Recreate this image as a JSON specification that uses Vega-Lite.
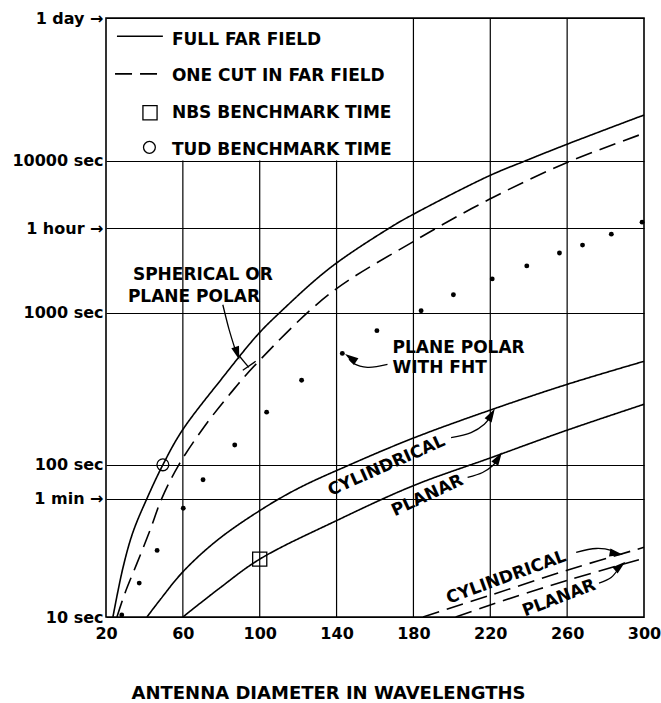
{
  "$schema": "https://vega.github.io/schema/vega-lite/v6.json",
  "width": 538,
  "height": 599,
  "autosize": {"type": "none"},
  "padding": {"left": 106, "top": 18, "right": 17, "bottom": 86},
  "background": "white",
  "config": {"view": {"stroke": "black", "strokeWidth": 1.6}, "font": "DejaVu Sans"},
  "datasets": {
    "vgrid": [
      {"x": 60, "y": 10, "y2": 10000},
      {"x": 100, "y": 10, "y2": 10000},
      {"x": 140, "y": 10, "y2": 10000},
      {"x": 180, "y": 10, "y2": 86400},
      {"x": 220, "y": 10, "y2": 86400},
      {"x": 260, "y": 10, "y2": 86400}
    ],
    "curves": [
      {"series": "spherical", "field": "full", "x": 23.6, "y": 10},
      {"series": "spherical", "field": "full", "x": 28.8, "y": 21},
      {"series": "spherical", "field": "full", "x": 34.0, "y": 36},
      {"series": "spherical", "field": "full", "x": 41.3, "y": 60},
      {"series": "spherical", "field": "full", "x": 49.6, "y": 100},
      {"series": "spherical", "field": "full", "x": 59.5, "y": 167},
      {"series": "spherical", "field": "full", "x": 80, "y": 365},
      {"series": "spherical", "field": "full", "x": 99, "y": 718},
      {"series": "spherical", "field": "full", "x": 110.4, "y": 1000},
      {"series": "spherical", "field": "full", "x": 136.4, "y": 1960},
      {"series": "spherical", "field": "full", "x": 167.5, "y": 3600},
      {"series": "spherical", "field": "full", "x": 179.5, "y": 4400},
      {"series": "spherical", "field": "full", "x": 219.5, "y": 7940},
      {"series": "spherical", "field": "full", "x": 238.7, "y": 10000},
      {"series": "spherical", "field": "full", "x": 260, "y": 12800},
      {"series": "spherical", "field": "full", "x": 300, "y": 19900},

      {"series": "sphericalCut", "field": "cut", "x": 25.7, "y": 10},
      {"series": "sphericalCut", "field": "cut", "x": 30, "y": 14.5},
      {"series": "sphericalCut", "field": "cut", "x": 36.1, "y": 22.5},
      {"series": "sphericalCut", "field": "cut", "x": 42.9, "y": 37.1},
      {"series": "sphericalCut", "field": "cut", "x": 49, "y": 60},
      {"series": "sphericalCut", "field": "cut", "x": 57.9, "y": 100},
      {"series": "sphericalCut", "field": "cut", "x": 71.4, "y": 180},
      {"series": "sphericalCut", "field": "cut", "x": 84.4, "y": 291},
      {"series": "sphericalCut", "field": "cut", "x": 98.4, "y": 464},
      {"series": "sphericalCut", "field": "cut", "x": 136.4, "y": 1330},
      {"series": "sphericalCut", "field": "cut", "x": 179.5, "y": 2910},
      {"series": "sphericalCut", "field": "cut", "x": 219.5, "y": 5560},
      {"series": "sphericalCut", "field": "cut", "x": 260, "y": 9700},
      {"series": "sphericalCut", "field": "cut", "x": 300, "y": 15100},

      {"series": "cylindrical", "field": "full", "x": 41.3, "y": 10},
      {"series": "cylindrical", "field": "full", "x": 48, "y": 12.9},
      {"series": "cylindrical", "field": "full", "x": 60, "y": 19.8},
      {"series": "cylindrical", "field": "full", "x": 77.7, "y": 31.8},
      {"series": "cylindrical", "field": "full", "x": 100, "y": 50},
      {"series": "cylindrical", "field": "full", "x": 120, "y": 70},
      {"series": "cylindrical", "field": "full", "x": 146.8, "y": 100},
      {"series": "cylindrical", "field": "full", "x": 180, "y": 150},
      {"series": "cylindrical", "field": "full", "x": 220, "y": 229},
      {"series": "cylindrical", "field": "full", "x": 260, "y": 338},
      {"series": "cylindrical", "field": "full", "x": 300, "y": 479},

      {"series": "planar", "field": "full", "x": 60, "y": 10},
      {"series": "planar", "field": "full", "x": 79.2, "y": 15.5},
      {"series": "planar", "field": "full", "x": 100, "y": 24},
      {"series": "planar", "field": "full", "x": 140, "y": 43},
      {"series": "planar", "field": "full", "x": 180, "y": 73},
      {"series": "planar", "field": "full", "x": 220, "y": 111},
      {"series": "planar", "field": "full", "x": 260, "y": 169},
      {"series": "planar", "field": "full", "x": 300, "y": 250},

      {"series": "cylindricalCut", "field": "cut", "x": 185, "y": 10},
      {"series": "cylindricalCut", "field": "cut", "x": 220, "y": 13.9},
      {"series": "cylindricalCut", "field": "cut", "x": 260, "y": 20.3},
      {"series": "cylindricalCut", "field": "cut", "x": 300, "y": 28.7},

      {"series": "planarCut", "field": "cut", "x": 202, "y": 10},
      {"series": "planarCut", "field": "cut", "x": 220, "y": 12.0},
      {"series": "planarCut", "field": "cut", "x": 260, "y": 17.4},
      {"series": "planarCut", "field": "cut", "x": 300, "y": 24.3},

      {"series": "legendFull", "field": "full", "x": 25.7, "y": 65600},
      {"series": "legendFull", "field": "full", "x": 49.6, "y": 65600},
      {"series": "legendCut", "field": "cut", "x": 24.7, "y": 37100},
      {"series": "legendCut", "field": "cut", "x": 49.6, "y": 37100}
    ],
    "arrows": [
      {"arrow": "sph", "x": 80.8, "y": 1127},
      {"arrow": "sph", "x": 84.0, "y": 780},
      {"arrow": "sph", "x": 87.5, "y": 560},
      {"arrow": "sphTick", "x": 89.6, "y": 515},
      {"arrow": "sphTick", "x": 94.3, "y": 437},
      {"arrow": "sphBar", "x": 91.2, "y": 418},
      {"arrow": "sphBar", "x": 97.9, "y": 479},
      {"arrow": "fht", "x": 166.5, "y": 457},
      {"arrow": "fht", "x": 156.1, "y": 437},
      {"arrow": "fht", "x": 148.8, "y": 464},
      {"arrow": "fht", "x": 146.5, "y": 495},
      {"arrow": "cyl", "x": 199.6, "y": 151},
      {"arrow": "cyl", "x": 210.0, "y": 163},
      {"arrow": "cyl", "x": 216.9, "y": 185},
      {"arrow": "cyl", "x": 219.8, "y": 205},
      {"arrow": "pla", "x": 208.2, "y": 82.6},
      {"arrow": "pla", "x": 216.0, "y": 89.1},
      {"arrow": "pla", "x": 221.2, "y": 98.5},
      {"arrow": "pla", "x": 223.3, "y": 106},
      {"arrow": "lcyl", "x": 264.7, "y": 26.6},
      {"arrow": "lcyl", "x": 275.1, "y": 28.2},
      {"arrow": "lcyl", "x": 282.9, "y": 27.4},
      {"arrow": "lcyl", "x": 285, "y": 26.4},
      {"arrow": "lpla", "x": 276.6, "y": 16.7},
      {"arrow": "lpla", "x": 282.9, "y": 18.2},
      {"arrow": "lpla", "x": 286.5, "y": 20.6}
    ],
    "heads": [
      {"id": "sph", "x": 88.3, "y": 540},
      {"id": "fht", "x": 147.3, "y": 505},
      {"id": "cyl", "x": 220.6, "y": 214},
      {"id": "pla", "x": 224.2, "y": 111},
      {"id": "lcyl", "x": 285.6, "y": 26.1},
      {"id": "lpla", "x": 287.6, "y": 21.6}
    ],
    "dots": [
      {"x": 28.2, "y": 10.3},
      {"x": 37.3, "y": 16.7},
      {"x": 46.6, "y": 27.4},
      {"x": 60.2, "y": 51.8},
      {"x": 70.5, "y": 79.8},
      {"x": 87.0, "y": 135},
      {"x": 103.6, "y": 222},
      {"x": 121.8, "y": 360},
      {"x": 143, "y": 540},
      {"x": 161, "y": 762},
      {"x": 184, "y": 1030},
      {"x": 200.8, "y": 1312},
      {"x": 221, "y": 1667},
      {"x": 239, "y": 2030},
      {"x": 256, "y": 2466},
      {"x": 268, "y": 2780},
      {"x": 283, "y": 3280},
      {"x": 299, "y": 3935}
    ],
    "circles": [
      {"x": 49.6, "y": 100},
      {"x": 42.6, "y": 12200}
    ],
    "squares": [
      {"x": 100, "y": 24},
      {"x": 42.9, "y": 20600}
    ],
    "labels": [
      {"id": "flat", "text": "FULL FAR FIELD", "x": 54.3, "y": 57300},
      {"id": "flat", "text": "ONE CUT IN FAR FIELD", "x": 54.3, "y": 33300},
      {"id": "flat", "text": "NBS BENCHMARK TIME", "x": 54.3, "y": 19100},
      {"id": "flat", "text": "TUD BENCHMARK TIME", "x": 54.3, "y": 10900},
      {"id": "flat", "text": "SPHERICAL OR", "x": 34.0, "y": 1644},
      {"id": "flat", "text": "PLANE POLAR", "x": 31.4, "y": 1180},
      {"id": "flat", "text": "PLANE POLAR", "x": 169.1, "y": 540},
      {"id": "flat", "text": "WITH FHT", "x": 169.1, "y": 399},
      {"id": "cylMid", "text": "CYLINDRICAL", "x": 166.0, "y": 98.4},
      {"id": "plaMid", "text": "PLANAR", "x": 187.3, "y": 62.7},
      {"id": "cylLow", "text": "CYLINDRICAL", "x": 228.3, "y": 18.2},
      {"id": "plaLow", "text": "PLANAR", "x": 255.8, "y": 13.3}
    ]
  },
  "encoding": {
    "x": {
      "field": "x",
      "type": "quantitative",
      "scale": {"domain": [20, 300], "nice": false, "zero": false},
      "axis": {
        "values": [20, 60, 100, 140, 180, 220, 260, 300],
        "title": "ANTENNA DIAMETER IN WAVELENGTHS",
        "grid": false,
        "ticks": false,
        "domain": false,
        "labelFont": "DejaVu Sans",
        "labelFontWeight": "bold",
        "labelFontSize": 16,
        "labelColor": "black",
        "labelPadding": 8,
        "labelFlush": false,
        "labelOverlap": false,
        "titleFont": "DejaVu Sans",
        "titleFontWeight": "bold",
        "titleFontSize": 18,
        "titleColor": "black",
        "titleX": 222,
        "titleY": 81,
        "titleAlign": "center",
        "titleBaseline": "alphabetic"
      }
    },
    "y": {
      "field": "y",
      "type": "quantitative",
      "scale": {"type": "log", "domain": [10, 86400], "nice": false},
      "axis": {
        "values": [10, 60, 100, 1000, 3600, 10000, 86400],
        "labelExpr": "datum.value == 86400 ? '1 day →' : datum.value == 3600 ? '1 hour →' : datum.value == 60 ? '1 min →' : datum.value + ' sec'",
        "title": null,
        "grid": true,
        "gridColor": "black",
        "gridWidth": 1.2,
        "gridOpacity": 1,
        "ticks": false,
        "domain": false,
        "labelFont": "DejaVu Sans",
        "labelFontWeight": "bold",
        "labelFontSize": 16,
        "labelColor": "black",
        "labelPadding": 3,
        "labelFlush": false,
        "labelOverlap": false,
        "labelBaseline": "middle"
      }
    }
  },
  "layer": [
    {
      "data": {"name": "vgrid"},
      "mark": {"type": "rule", "color": "black", "strokeWidth": 1.2},
      "encoding": {"y2": {"field": "y2"}}
    },
    {
      "data": {"name": "curves"},
      "mark": {"type": "line", "interpolate": "catmull-rom", "strokeWidth": 1.6, "color": "black"},
      "encoding": {
        "detail": {"field": "series"},
        "strokeDash": {
          "field": "field",
          "type": "nominal",
          "scale": {"domain": ["full", "cut"], "range": [[1, 0], [17, 8]]},
          "legend": null
        }
      }
    },
    {
      "data": {"name": "arrows"},
      "mark": {"type": "line", "interpolate": "catmull-rom", "strokeWidth": 1.3, "color": "black"},
      "encoding": {"detail": {"field": "arrow"}}
    },
    {
      "data": {"name": "heads"},
      "transform": [{"filter": "datum.id == 'sph'"}],
      "mark": {"type": "point", "shape": "M0,-1L0.6,1L-0.6,1Z", "filled": true, "color": "black", "opacity": 1, "size": 180, "angle": 162}
    },
    {
      "data": {"name": "heads"},
      "transform": [{"filter": "datum.id == 'fht'"}],
      "mark": {"type": "point", "shape": "M0,-1L0.6,1L-0.6,1Z", "filled": true, "color": "black", "opacity": 1, "size": 180, "angle": 304}
    },
    {
      "data": {"name": "heads"},
      "transform": [{"filter": "datum.id == 'cyl'"}],
      "mark": {"type": "point", "shape": "M0,-1L0.6,1L-0.6,1Z", "filled": true, "color": "black", "opacity": 1, "size": 180, "angle": 30}
    },
    {
      "data": {"name": "heads"},
      "transform": [{"filter": "datum.id == 'pla'"}],
      "mark": {"type": "point", "shape": "M0,-1L0.6,1L-0.6,1Z", "filled": true, "color": "black", "opacity": 1, "size": 180, "angle": 32}
    },
    {
      "data": {"name": "heads"},
      "transform": [{"filter": "datum.id == 'lcyl'"}],
      "mark": {"type": "point", "shape": "M0,-1L0.6,1L-0.6,1Z", "filled": true, "color": "black", "opacity": 1, "size": 180, "angle": 100}
    },
    {
      "data": {"name": "heads"},
      "transform": [{"filter": "datum.id == 'lpla'"}],
      "mark": {"type": "point", "shape": "M0,-1L0.6,1L-0.6,1Z", "filled": true, "color": "black", "opacity": 1, "size": 180, "angle": 50}
    },
    {
      "data": {"name": "dots"},
      "mark": {"type": "point", "shape": "circle", "filled": true, "color": "black", "opacity": 1, "size": 24}
    },
    {
      "data": {"name": "circles"},
      "mark": {"type": "point", "shape": "circle", "filled": false, "color": "black", "opacity": 1, "size": 140, "strokeWidth": 1.3}
    },
    {
      "data": {"name": "squares"},
      "mark": {"type": "point", "shape": "square", "filled": false, "color": "black", "opacity": 1, "size": 200, "strokeWidth": 1.3}
    },
    {
      "data": {"name": "labels"},
      "transform": [{"filter": "datum.id == 'flat'"}],
      "mark": {"type": "text", "align": "left", "baseline": "alphabetic", "font": "DejaVu Sans", "fontWeight": "bold", "fontSize": 17, "color": "black"},
      "encoding": {"text": {"field": "text"}}
    },
    {
      "data": {"name": "labels"},
      "transform": [{"filter": "datum.id == 'cylMid'"}],
      "mark": {"type": "text", "align": "center", "baseline": "middle", "angle": 336, "font": "DejaVu Sans", "fontWeight": "bold", "fontSize": 17, "color": "black"},
      "encoding": {"text": {"field": "text"}}
    },
    {
      "data": {"name": "labels"},
      "transform": [{"filter": "datum.id == 'plaMid'"}],
      "mark": {"type": "text", "align": "center", "baseline": "middle", "angle": 335, "font": "DejaVu Sans", "fontWeight": "bold", "fontSize": 17, "color": "black"},
      "encoding": {"text": {"field": "text"}}
    },
    {
      "data": {"name": "labels"},
      "transform": [{"filter": "datum.id == 'cylLow'"}],
      "mark": {"type": "text", "align": "center", "baseline": "middle", "angle": 340, "font": "DejaVu Sans", "fontWeight": "bold", "fontSize": 17, "color": "black"},
      "encoding": {"text": {"field": "text"}}
    },
    {
      "data": {"name": "labels"},
      "transform": [{"filter": "datum.id == 'plaLow'"}],
      "mark": {"type": "text", "align": "center", "baseline": "middle", "angle": 339, "font": "DejaVu Sans", "fontWeight": "bold", "fontSize": 17, "color": "black"},
      "encoding": {"text": {"field": "text"}}
    }
  ]
}
